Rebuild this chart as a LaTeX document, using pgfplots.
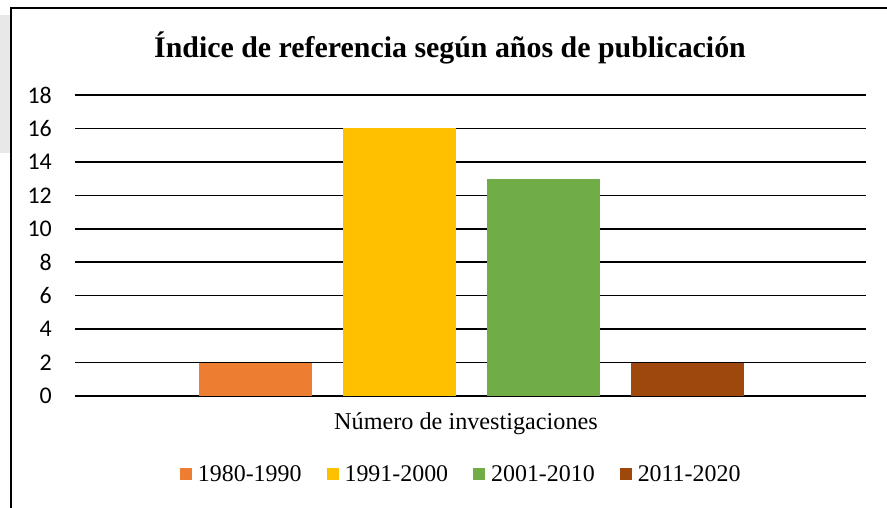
\documentclass[border=0pt]{standalone}
\usepackage{fontspec}
\setmainfont{Liberation Serif}
\newfontfamily\calibri{Carlito}
\usepackage{pgfplots}
\pgfplotsset{compat=1.18}
\definecolor{cOrange}{HTML}{ED7D31}
\definecolor{cYellow}{HTML}{FFC000}
\definecolor{cGreen}{HTML}{70AD47}
\definecolor{cBrown}{HTML}{9E480E}
\definecolor{cPanel}{HTML}{E8E8E8}
\begin{document}
\begin{tikzpicture}
\useasboundingbox (0,0) rectangle (887bp,508bp);
\fill[cPanel] (0,355bp) rectangle (10bp,493bp);
\draw[black, line width=2bp] (11bp,0) -- (11bp,500bp) -- (887bp,500bp);
\node[font=\fontsize{30}{30}\selectfont\bfseries, anchor=center] at (450bp,460bp) {Índice de referencia según años de publicación};
\node[font=\fontsize{24.3}{24.3}\selectfont, anchor=center] at (466bp,84bp) {Número de investigaciones};
\begin{axis}[
  at={(75bp,112bp)}, anchor=south west,
  scale only axis, width=791bp, height=301bp,
  ybar, bar width=113bp,
  xmin=-1.253, xmax=4.24,
  ymin=0, ymax=18, ytick={0,2,...,18},
  xtick=\empty,
  axis line style={draw=none},
  major tick length=0pt,
  ymajorgrids, grid style={black, line width=1.5bp},
  /pgf/number format/assume math mode=true,
  yticklabel style={font=\calibri\fontsize{24}{24}\selectfont, inner sep=0pt, xshift=-23bp},
  clip=false,
  legend columns=4,
  legend style={at={(0.487,-0.259)}, anchor=center, draw=none, fill=none,
    font=\fontsize{24}{24}\selectfont,
    /tikz/every even column/.append style={column sep=25bp},
    nodes={inner xsep=0bp, inner ysep=2bp},
    /tikz/every odd column/.append style={column sep=6bp}},
  legend image code/.code={\fill[#1] (0bp,-6bp) rectangle (12bp,6bp);},
]
\addplot[fill=cOrange, draw=none, bar shift=0pt] coordinates {(0,2)};
\addlegendentry{1980-1990}
\addplot[fill=cYellow, draw=none, bar shift=0pt] coordinates {(1,16)};
\addlegendentry{1991-2000}
\addplot[fill=cGreen, draw=none, bar shift=0pt] coordinates {(2,13)};
\addlegendentry{2001-2010}
\addplot[fill=cBrown, draw=none, bar shift=0pt] coordinates {(3,2)};
\addlegendentry{2011-2020}
\end{axis}
\end{tikzpicture}
\end{document}
